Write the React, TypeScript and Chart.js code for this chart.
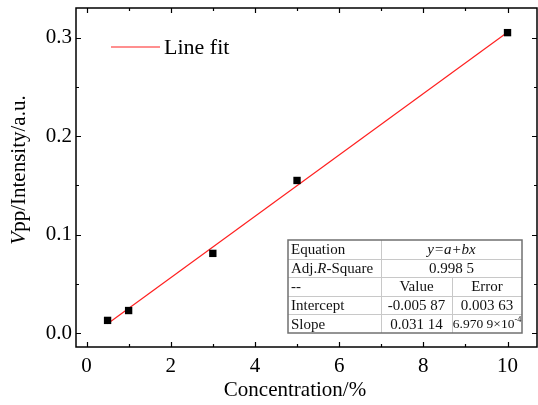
import React, { useEffect, useRef } from "react";
import { Chart, registerables } from "chart.js";

Chart.register(...registerables);

const concentration = [0.5, 1, 3, 5, 10];
const intensity = [0.013, 0.023, 0.081, 0.155, 0.305];
const fitX = [0.5, 10];
const fitY = [0.0097, 0.3055];
const xTicks = [0, 2, 4, 6, 8, 10];
const yTicks = [0, 0.1, 0.2, 0.3];
const xMinor = [1, 3, 5, 7, 9];
const yMinor = [0.05, 0.15, 0.25];

const tableRows = [
  ["Equation", "y=a+bx", ""],
  ["Adj.R-Square", "0.998 5", ""],
  ["--", "Value", "Error"],
  ["Intercept", "-0.005 87", "0.003 63"],
  ["Slope", "0.031 14", "6.970 9×10"],
];

const SERIF = '"Liberation Serif", "Times New Roman", serif';

const framePlugin = {
  id: "frame",
  afterDraw(chart: any) {
    const ctx = chart.ctx as CanvasRenderingContext2D;
    const { left, right, top, bottom } = chart.chartArea;
    const xs = chart.scales.x;
    const ys = chart.scales.y;
    ctx.save();
    ctx.strokeStyle = "#000";
    ctx.lineWidth = 1.5;
    ctx.strokeRect(left, top, right - left, bottom - top);
    ctx.lineWidth = 1.2;
    const major = 5;
    const minor = 3;
    ctx.beginPath();
    const xt = (v: number, len: number) => {
      const px = Math.round(xs.getPixelForValue(v)) + 0.5;
      ctx.moveTo(px, bottom);
      ctx.lineTo(px, bottom - len);
      ctx.moveTo(px, top);
      ctx.lineTo(px, top + len);
    };
    const yt = (v: number, len: number) => {
      const py = Math.round(ys.getPixelForValue(v)) + 0.5;
      ctx.moveTo(left, py);
      ctx.lineTo(left + len, py);
      ctx.moveTo(right, py);
      ctx.lineTo(right - len, py);
    };
    xTicks.forEach((v) => xt(v, major));
    xMinor.forEach((v) => xt(v, minor));
    yTicks.forEach((v) => yt(v, major));
    yMinor.forEach((v) => yt(v, minor));
    ctx.stroke();

    // axis titles
    ctx.fillStyle = "#000";
    ctx.textBaseline = "middle";
    ctx.font = `21px ${SERIF}`;
    ctx.textAlign = "center";
    ctx.fillText("Concentration/%", 295, 390);

    ctx.save();
    ctx.translate(19, 170);
    ctx.rotate(-Math.PI / 2);
    ctx.font = `italic 21px ${SERIF}`;
    const vW = ctx.measureText("V").width;
    ctx.font = `21px ${SERIF}`;
    const restW = ctx.measureText("pp/Intensity/a.u.").width;
    const start = -(vW + restW) / 2;
    ctx.textAlign = "left";
    ctx.font = `italic 21px ${SERIF}`;
    ctx.fillText("V", start, 0);
    ctx.font = `21px ${SERIF}`;
    ctx.fillText("pp/Intensity/a.u.", start + vW, 0);
    ctx.restore();

    // legend
    ctx.strokeStyle = "#ff2020";
    ctx.lineWidth = 1.2;
    ctx.beginPath();
    ctx.moveTo(111, 47);
    ctx.lineTo(160, 47);
    ctx.stroke();
    ctx.font = `22px ${SERIF}`;
    ctx.textAlign = "left";
    ctx.fillText("Line fit", 164, 48);

    // table
    const tL = 288, tT = 240, tR = 522, tB = 333;
    const c1 = 381, c2 = 452;
    const rh = (tB - tT) / 5;
    ctx.strokeStyle = "#c8c8c8";
    ctx.lineWidth = 1;
    ctx.beginPath();
    for (let i = 1; i < 5; i++) {
      const y = Math.round(tT + i * rh) + 0.5;
      ctx.moveTo(tL, y);
      ctx.lineTo(tR, y);
    }
    ctx.moveTo(c1 + 0.5, tT);
    ctx.lineTo(c1 + 0.5, tB);
    ctx.moveTo(c2 + 0.5, tT + 2 * rh);
    ctx.lineTo(c2 + 0.5, tB);
    ctx.stroke();
    ctx.strokeStyle = "#707070";
    ctx.lineWidth = 1.5;
    ctx.strokeRect(tL, tT, tR - tL, tB - tT);

    ctx.fillStyle = "#111";
    const fs = 15;
    tableRows.forEach((row, i) => {
      const cy = tT + i * rh + rh / 2 + 1;
      ctx.font = `${fs}px ${SERIF}`;
      ctx.textAlign = "left";
      if (i === 1) {
        ctx.fillText("Adj.", tL + 3, cy);
        let x = tL + 3 + ctx.measureText("Adj.").width;
        ctx.font = `italic ${fs}px ${SERIF}`;
        ctx.fillText("R", x, cy);
        x += ctx.measureText("R").width;
        ctx.font = `${fs}px ${SERIF}`;
        ctx.fillText("-Square", x, cy);
      } else {
        ctx.fillText(row[0], tL + 3, cy);
      }
      ctx.textAlign = "center";
      if (i < 2) {
        if (i === 0) ctx.font = `italic ${fs}px ${SERIF}`;
        ctx.fillText(row[1], (c1 + tR) / 2, cy);
      } else {
        ctx.fillText(row[1], (c1 + c2) / 2, cy);
        if (i === 4) {
          const sf = 13.5;
          ctx.font = `${sf}px ${SERIF}`;
          const main = row[2];
          const w1 = ctx.measureText(main).width;
          ctx.font = `${sf * 0.6}px ${SERIF}`;
          const w2 = ctx.measureText("-4").width;
          const sx = (c2 + tR) / 2 - (w1 + w2) / 2;
          ctx.textAlign = "left";
          ctx.font = `${sf}px ${SERIF}`;
          ctx.fillText(main, sx, cy);
          ctx.font = `${sf * 0.6}px ${SERIF}`;
          ctx.fillText("-4", sx + w1, cy - 5);
        } else {
          ctx.fillText(row[2], (c2 + tR) / 2, cy);
        }
      }
    });
    ctx.restore();
  },
};

export default function App() {
  const ref = useRef<HTMLCanvasElement>(null);
  useEffect(() => {
    if (!ref.current) return;
    const chart = new Chart(ref.current, {
      type: "scatter",
      data: {
        datasets: [
          {
            label: "Line fit",
            type: "line",
            data: fitX.map((x, i) => ({ x, y: fitY[i] })),
            borderColor: "#ff2020",
            borderWidth: 1.2,
            pointRadius: 0,
            fill: false,
            order: 2,
          },
          {
            label: "data",
            data: concentration.map((x, i) => ({ x, y: intensity[i] })),
            backgroundColor: "#000",
            borderColor: "#000",
            pointStyle: "rect",
            pointRadius: 5.2,
            borderWidth: 0,
            order: 1,
          },
        ],
      },
      options: {
        responsive: false,
        animation: false,
        devicePixelRatio: 1,
        layout: { autoPadding: false, padding: { top: 8, right: 1, left: 0, bottom: 0 } },
        plugins: {
          legend: { display: false },
          tooltip: { enabled: false },
        },
        scales: {
          x: {
            type: "linear",
            min: -0.25,
            max: 10.7,
            grid: { display: false, drawTicks: false },
            border: { display: false },
            afterBuildTicks: (s: any) => {
              s.ticks = xTicks.map((v) => ({ value: v }));
            },
            afterFit: (s: any) => {
              s.height = 58;
              s.paddingLeft = 0;
              s.paddingRight = 0;
            },
            ticks: {
              padding: 7,
              color: "#000",
              font: { family: SERIF, size: 21 },
              callback: (v: any) => String(v),
            },
          },
          y: {
            type: "linear",
            min: -0.014,
            max: 0.33,
            grid: { display: false, drawTicks: false },
            border: { display: false },
            afterBuildTicks: (s: any) => {
              s.ticks = yTicks.map((v) => ({ value: v }));
            },
            afterFit: (s: any) => {
              s.width = 76;
              s.paddingTop = 0;
              s.paddingBottom = 0;
            },
            ticks: {
              padding: 4,
              color: "#000",
              font: { family: SERIF, size: 21 },
              callback: (v: any) => Number(v).toFixed(1),
            },
          },
        },
      },
      plugins: [framePlugin],
    });
    return () => chart.destroy();
  }, []);
  return (
    <div style={{ position: "absolute", left: 0, top: 0, width: 538, height: 405, background: "#fff" }}>
      <canvas ref={ref} width={538} height={405} />
    </div>
  );
}
